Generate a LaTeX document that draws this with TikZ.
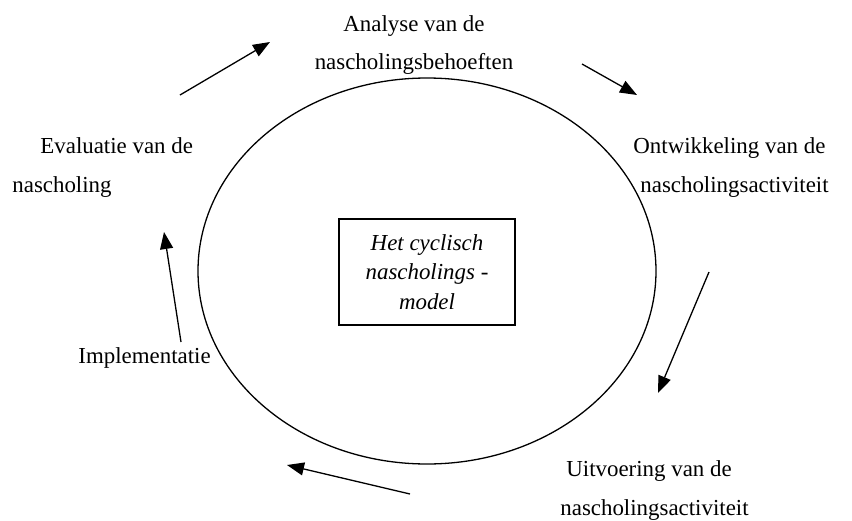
\documentclass[tikz,border=0pt]{standalone}
\usepackage{fontspec}
\setmainfont{Liberation Serif}
\usetikzlibrary{arrows.meta}
\begin{document}
\begin{tikzpicture}[x=0.5pt,y=-0.5pt,
  lbl/.style={inner sep=0pt, font=\fontsize{11.45}{13}\selectfont},
  cyc/.style={line width=0.65pt, -{Triangle[length=8.5pt,width=6.5pt]}}]
\useasboundingbox (0,0) rectangle (852,520);
\draw[line width=0.65pt] (427,271) ellipse [x radius=114.5pt, y radius=96.5pt];
\node[draw, line width=0.6pt, minimum width=88pt, minimum height=53pt, inner sep=0pt, align=center,
  font=\itshape\fontsize{11.45}{14.75}\selectfont] (box) at (427,272) {Het cyclisch\\nascholings -\\model};
\node[lbl, anchor=base] (an1) at (414,31) {Analyse van de};
\node[lbl, anchor=base] (an2) at (414,69) {nascholingsbehoeften};
\node[lbl, anchor=base west] (on1) at (633,153) {Ontwikkeling van de};
\node[lbl, anchor=base west] (on2) at (640,192) {nascholingsactiviteit};
\node[lbl, anchor=base west] (ev1) at (40,153) {Evaluatie van de};
\node[lbl, anchor=base west] (ev2) at (12,192) {nascholing};
\node[lbl, anchor=base west] (im) at (78,363) {Implementatie};
\node[lbl, anchor=base west] (ui1) at (566,476) {Uitvoering van de};
\node[lbl, anchor=base west] (ui2) at (560,515) {nascholingsactiviteit};
\coordinate (a1s) at (180,95);  \coordinate (a1e) at (270,42);
\coordinate (a2s) at (582,64);  \coordinate (a2e) at (637,95);
\coordinate (a3s) at (709,272); \coordinate (a3e) at (658,393);
\coordinate (a4s) at (410,494); \coordinate (a4e) at (287,465);
\coordinate (a5s) at (181,342); \coordinate (a5e) at (164,232);
\draw[cyc] (a1s) -- (a1e);
\draw[cyc] (a2s) -- (a2e);
\draw[cyc] (a3s) -- (a3e);
\draw[cyc] (a4s) -- (a4e);
\draw[cyc] (a5s) -- (a5e);
\end{tikzpicture}
\end{document}
